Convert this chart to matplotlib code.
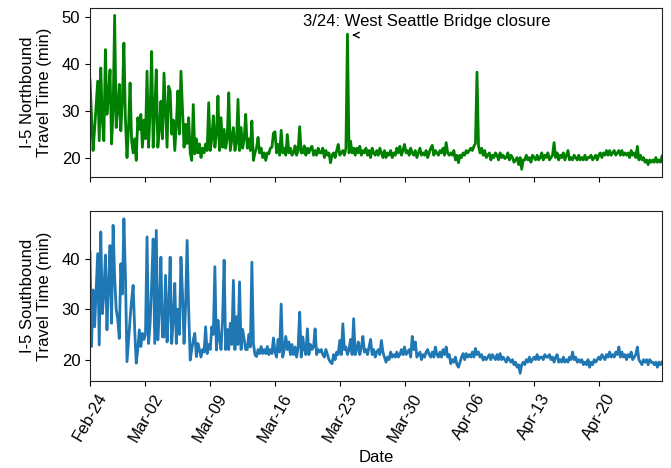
import numpy as np
import pandas as pd
import matplotlib
matplotlib.use("Agg")
import matplotlib.pyplot as plt

plt.rcParams['font.family'] = ['Liberation Sans', 'DejaVu Sans']

# Samples every 4 hours, values in minutes
northbound = [
    36.5, 29, 21.5, 26, 31, 36.3,
    23.6, 39.1, 28, 23.6, 43, 29.2,
    33, 38.7, 22.9, 30, 50.3, 26.4,
    30, 35.6, 25.7, 32, 44.4, 28,
    20, 26.4, 35.9, 23.6, 21, 24,
    19.4, 28.5, 26, 29.2, 22.2, 28,
    24, 38.4, 22.2, 30, 42.6, 22.2,
    30, 38.7, 22.2, 26, 32, 24,
    38, 30, 22.2, 35.2, 34.2, 25,
    28, 21.5, 27, 34.2, 25, 38.4,
    30, 22.2, 27.1, 23, 28.5, 21,
    19.4, 31.3, 20.8, 24, 21, 22.9,
    20, 22, 21, 22.9, 21.5, 31.7,
    21.5, 24, 28.9, 22.2, 25, 33.1,
    21.5, 28.5, 22.2, 26, 22, 24,
    33.8, 21.5, 24, 26.4, 21.5, 23,
    32.4, 21.5, 26.4, 22, 24, 29.2,
    22, 24, 21.5, 27.8, 19.4, 21,
    22, 24.3, 21, 22, 20, 21,
    19.4, 21, 20.8, 22, 22.2, 25.2,
    25.5, 21, 22.8, 20.5, 25.8, 21,
    22, 20.5, 24.9, 21, 22, 20.5,
    21, 22.5, 20.5, 21.5, 26.6, 21,
    21, 22.5, 20.5, 22, 21, 22,
    22.4, 20.5, 21.5, 20.5, 22, 21,
    21, 22, 20, 21.5, 20.5, 21,
    18.9, 20.5, 21, 20, 21.5, 22.8,
    20.5, 21, 21.5, 20.5, 22, 46.3,
    21, 23.5, 21, 22, 20.5, 22,
    21, 22.4, 20.5, 21.5, 21, 22,
    20.5, 21.5, 20, 22, 21, 20.5,
    21.5, 20.5, 22, 21, 20, 21.5,
    20, 21, 20.5, 21.5, 20, 21,
    20.5, 22, 21, 22.4, 20.5, 21.5,
    22.8, 21, 21.5, 20.5, 22, 21,
    20.5, 21.5, 20, 21, 22, 20.5,
    21, 20.5, 21.5, 20, 21, 22,
    22.6, 20.5, 21.5, 21, 20.5, 21.5,
    21, 22, 20.5, 23.2, 21, 20.5,
    21, 20.5, 21.5, 19.5, 20.5, 18.9,
    20.5, 20, 21, 20.5, 21.5, 21,
    21.5, 22, 21.5, 22.4, 23, 38.2,
    22.4, 21, 22, 20.5, 21.5, 20,
    20.5, 21, 19.5, 20.5, 20, 21,
    20.5, 19.5, 21, 20, 20.5, 19.8,
    20, 21, 19.5, 20.5, 20, 19,
    19.5, 20, 18.5, 20, 17.5, 19.5,
    19.5, 20.5, 19.5, 20, 19, 20.5,
    20, 19.5, 20.5, 19.5, 20, 21,
    19.5, 20.5, 20, 21, 19.5, 20,
    20.5, 23.2, 20, 21, 19.5, 20.5,
    20, 21, 19.5, 20.5, 21.5, 19.5,
    20, 19.5, 20.5, 20, 19.5, 20.5,
    19.5, 20, 19.5, 20.5, 19.5, 20,
    20, 20.5, 19.5, 20, 20.5, 19.5,
    20.5, 21, 20, 21, 20.5, 21.5,
    20.5, 21.5, 20.5, 21, 21.5, 20.5,
    21, 21.5, 20.5, 21.5, 20.5, 21,
    20.5, 21, 20, 21.5, 20.5, 21,
    20, 22.4, 19.5, 20.5, 19.5, 20,
    19, 19.5, 18.5, 19.5, 19, 19.5,
    19, 20, 19, 19.5, 19, 20.3,
]

southbound = [
    41.3, 22.6, 33.8, 26.5, 34, 41,
    22.9, 45.3, 29.1, 33, 40.7, 25.9,
    35, 42.6, 27.2, 46.6, 36.4, 30,
    28, 24.2, 39, 33, 47.9, 36.4,
    19.6, 23.9, 28, 31.8, 34.7, 26,
    19.3, 22, 25.9, 22.6, 25.2, 24,
    25, 44.3, 23.2, 27.2, 35, 43.9,
    23.2, 45.6, 23.9, 30, 40.3, 24.5,
    24.5, 36.7, 23.5, 30, 40.3, 23.2,
    28, 35.1, 23.2, 30, 25, 40.3,
    33.1, 23.2, 30.5, 43.6, 30, 19.9,
    22, 23.9, 25.2, 20.6, 23.2, 22,
    20.5, 22, 21.5, 26.5, 21.2, 23,
    22, 26.5, 25, 38.4, 21.9, 27.8,
    24, 22, 28, 39.7, 22, 26,
    22, 27.2, 23, 35.7, 22, 28.5,
    23, 35.4, 22, 26, 24, 22,
    22, 25, 22.5, 39.3, 23.2, 21,
    20.6, 22, 21.2, 22.6, 21.2, 22,
    21.2, 22.6, 21, 22, 21.2, 24.3,
    21.5, 20.5, 24, 21.5, 31, 20.5,
    22, 24.6, 22, 23.5, 21, 23,
    21, 22.5, 20.5, 22.5, 29.4, 20.5,
    24.5, 22, 21, 26.1, 21, 23,
    22, 22.5, 26.1, 21, 22, 21.5,
    22, 21, 20.5, 22, 21, 20,
    19.5, 19.2, 21, 20, 21.5, 21,
    23.8, 21, 27.1, 22, 22.5, 21,
    22, 24, 21, 28.1, 21, 22,
    23.5, 21, 22.5, 24.6, 21.5, 22,
    21, 22.5, 24, 21, 22, 20.5,
    21.5, 22, 21, 23.8, 21.5, 20.5,
    19.5, 20.5, 20, 21.5, 20.5, 21,
    20.5, 21.5, 20.5, 21, 22, 21,
    22.5, 21, 21.5, 22, 20.5, 24.6,
    22, 23.5, 20.5, 21, 21.5, 20,
    21, 20.5, 21.5, 22, 21, 20.5,
    21.5, 20.5, 22.5, 21, 20.5, 21.5,
    20.5, 22, 21, 22.5, 20.5, 21,
    19.2, 20, 19.5, 20.5, 19, 18.5,
    19.5, 20.5, 21.2, 20, 21.2, 20.5,
    21, 20.5, 21.5, 20.5, 22.2, 21,
    21.5, 20.5, 21, 19.9, 20.5, 20,
    20.5, 21, 20, 21, 20.5, 20,
    21, 20, 21.2, 20, 20.5, 20,
    19.5, 20.5, 20, 19.5, 20, 19,
    19.5, 18.5, 19, 17.3, 19, 19.5,
    19, 20, 19.5, 20.5, 19.5, 20,
    20.5, 20, 21, 20, 20.5, 20.5,
    20, 21, 20.5, 20.5, 21, 20,
    20.5, 19.5, 20.5, 21, 19.5, 20,
    19.5, 20.5, 19.5, 20, 19.5, 20.5,
    20, 21.5, 20, 20.5, 19.5, 20,
    19.5, 20, 19, 19.5, 19, 20,
    18.5, 19.5, 19, 20, 19.5, 20,
    20.5, 20, 21, 20.5, 20, 21,
    20.5, 21.5, 20.5, 21, 20.5, 21.5,
    21, 22.5, 20.5, 21.5, 20.5, 21,
    20, 21, 20.5, 21.5, 20, 20.5,
    21, 22.5, 20, 19.5, 19, 20,
    19.5, 20, 19, 20, 19.5, 19.5,
    19, 19.5, 18.5, 19.5, 19, 19.5,
]

times = pd.date_range("2019-02-24", periods=len(northbound), freq="4h")
tick_dates = pd.to_datetime(["2019-02-24", "2019-03-02", "2019-03-09", "2019-03-16",
                             "2019-03-23", "2019-03-30", "2019-04-06", "2019-04-13",
                             "2019-04-20"])
tick_labels = ["Feb-24", "Mar-02", "Mar-09", "Mar-16", "Mar-23", "Mar-30",
               "Apr-06", "Apr-13", "Apr-20"]
annotation = "3/24: West Seattle Bridge closure"

nb = pd.Series(northbound, index=times)
sb = pd.Series(southbound, index=times)
late = nb[nb.index >= pd.Timestamp("2019-03-20")]
spike_time = late.idxmax()
spike_val = late.max()

fig = plt.figure(figsize=(6.71, 4.68), dpi=100)
ax1 = fig.add_axes([0.1341, 0.6218, 0.8525, 0.3618])
ax2 = fig.add_axes([0.1341, 0.1859, 0.8525, 0.3632], sharex=ax1)

ax1.plot(nb.index, nb.values, color="green", lw=2)
ax2.plot(sb.index, sb.values, color="#1f77b4", lw=2)

ax1.set_xlim(times[0], times[-1])
ax1.set_yticks([20, 30, 40, 50])
ax2.set_yticks([20, 30, 40])

for ax in (ax1, ax2):
    ax.tick_params(labelsize=12)
    for s in ax.spines.values():
        s.set_color("#222222")
ax1.tick_params(axis="x", labelbottom=False)
ax2.set_xticks(tick_dates)
ax2.set_xticklabels(tick_labels, rotation=60)

ax1.set_ylabel("I-5 Northbound\nTravel Time (min)", fontsize=12, labelpad=7)
ax2.set_ylabel("I-5 Southbound\nTravel Time (min)", fontsize=12, labelpad=7)
ax2.set_xlabel("Date", fontsize=12)

ax1.text(times[0] + pd.Timedelta(days=22.98), 49.1, annotation, fontsize=12,
         ha="left", va="center")
ax1.annotate("", xy=(spike_time + pd.Timedelta(hours=5), spike_val - 0.2),
             xytext=(spike_time + pd.Timedelta(hours=26), spike_val - 0.2),
             arrowprops=dict(arrowstyle="->", color="black", lw=1))

fig.savefig("out.png", dpi=100)
